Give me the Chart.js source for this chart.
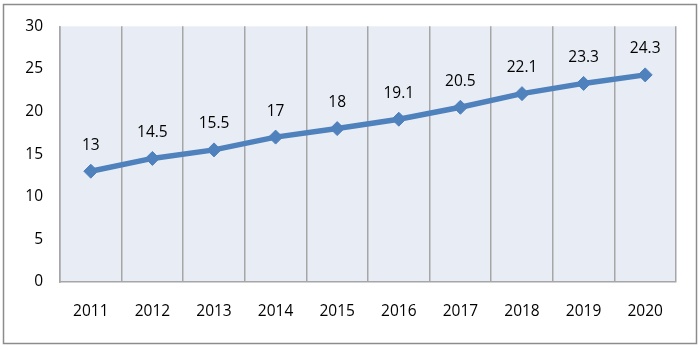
<!DOCTYPE html>
<html>
<head>
<meta charset="utf-8">
<script src="https://cdn.jsdelivr.net/npm/chart.js@4"></script>
<style>
  html, body { margin: 0; padding: 0; background: #ffffff; }
  #wrap { width: 700px; height: 350px; position: relative; }
</style>
</head>
<body>
<div id="wrap"><canvas id="chart" width="700" height="350"></canvas></div>
<script>
// Yearly values
const years = ['2011', '2012', '2013', '2014', '2015', '2016', '2017', '2018', '2019', '2020'];
const values = [13, 14.5, 15.5, 17, 18, 19.1, 20.5, 22.1, 23.3, 24.3];
const yTicks = [0, 5, 10, 15, 20, 25, 30];

const FONT = "'Open Sans', 'Liberation Sans', sans-serif";

// Frame around the whole figure and tinted plot area
const framePlugin = {
  id: 'frame',
  beforeDraw(chart) {
    const { ctx, chartArea: a } = chart;
    ctx.save();
    ctx.fillStyle = '#ffffff';
    ctx.fillRect(0, 0, chart.width, chart.height);
    ctx.fillStyle = '#e8edf5';
    ctx.fillRect(a.left, a.top, a.right - a.left, a.bottom - a.top);
    ctx.strokeStyle = '#8c8c8c';
    ctx.lineWidth = 1.5;
    ctx.strokeRect(3.5, 4.5, 693, 339);
    ctx.restore();
  }
};

// Value labels above each point
const valueLabels = {
  id: 'valueLabels',
  afterDatasetsDraw(chart) {
    const { ctx } = chart;
    const meta = chart.getDatasetMeta(0);
    ctx.save();
    ctx.fillStyle = '#000000';
    ctx.font = '15.5px ' + FONT;
    ctx.textAlign = 'center';
    ctx.textBaseline = 'middle';
    meta.data.forEach((pt, i) => {
      ctx.fillText(String(values[i]), pt.x, pt.y - 26);
    });
    ctx.restore();
  }
};

new Chart(document.getElementById('chart'), {
  type: 'line',
  data: {
    labels: years,
    datasets: [{
      data: values,
      borderColor: '#4f81bd',
      backgroundColor: '#4f81bd',
      borderWidth: 5.5,
      pointStyle: 'rectRot',
      pointRadius: 7,
      pointBorderWidth: 1,
      pointBackgroundColor: '#4f81bd',
      pointBorderColor: '#4f81bd',
      tension: 0,
      fill: false
    }]
  },
  options: {
    responsive: false,
    animation: false,
    layout: { padding: { left: 10, right: 24, top: 25, bottom: 18 } },
    plugins: {
      legend: { display: false },
      tooltip: { enabled: false }
    },
    scales: {
      x: {
        offset: true,
        grid: {
          offset: true,
          display: true,
          drawTicks: false,
          color: '#a6a6a6',
          lineWidth: 1.5
        },
        border: { display: true, color: '#a6a6a6', width: 1.5 },
        ticks: {
          color: '#000000',
          font: { family: FONT, size: 15.5 },
          padding: 20,
          maxRotation: 0
        },
        afterFit(scale) { scale.height = 50; }
      },
      y: {
        min: 0,
        max: 30,
        afterBuildTicks(scale) { scale.ticks = yTicks.map(v => ({ value: v })); },
        grid: { display: false, drawTicks: false },
        border: { display: true, color: '#a6a6a6', width: 1.5 },
        ticks: {
          color: '#000000',
          font: { family: FONT, size: 15.5 },
          padding: 17
        },
        afterFit(scale) { scale.width = 50; }
      }
    }
  },
  plugins: [framePlugin, valueLabels]
});
</script>
</body>
</html>
